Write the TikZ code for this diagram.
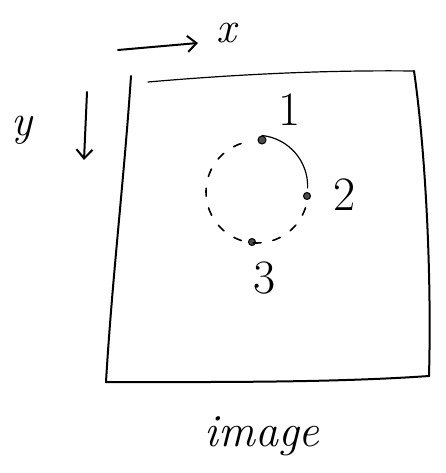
\documentclass[tikz,border=0pt]{standalone}
\usetikzlibrary{arrows.meta}
\begin{document}
\begin{tikzpicture}[x=1pt,y=-1pt,
  ink/.style={line width=2pt,line cap=round,line join=round,black},
  axisarrow/.style={ink,-{Straight Barb[length=9pt,width=16pt,line width=2pt]}},
  dotmark/.style={circle,fill=black!70,draw=black,line width=1pt,inner sep=0pt,minimum size=8pt},
  numlabel/.style={font=\fontsize{48}{50}\selectfont},
  axlabel/.style={font=\fontsize{44}{46}\selectfont\itshape}
]
\useasboundingbox (0,0) rectangle (446,473);
% frame
\coordinate (tl) at (131,76);
\coordinate (tr) at (414,71);
\coordinate (br) at (429,376);
\coordinate (bl) at (106,382);
\draw[ink] (tl) .. controls (124,180) and (112,280) .. (bl);
\draw[ink,line width=1.2pt] (148,82) .. controls (240,74) and (330,70) .. (tr);
\draw[ink] (tr) .. controls (424,140) and (432,260) .. (br);
\draw[ink] (bl) .. controls (200,382) and (330,383) .. (br);
% axes
\coordinate (xs) at (118,50);
\coordinate (xe) at (198,43);
\draw[axisarrow] (xs) -- (xe);
\node[axlabel] (xl) at (226,33) {x};
\coordinate (ys) at (87,92);
\coordinate (ye) at (84,160);
\draw[axisarrow] (ys) -- (ye);
\node[axlabel] (yl) at (22,130) {y};
% points on circle
\coordinate (c) at (257,192);
\node[dotmark] (p1) at (262,140) {};
\node[dotmark,minimum size=7pt] (p2) at (307,196) {};
\node[dotmark,minimum size=7pt] (p3) at (252,242) {};
\draw[ink,line width=1.2pt] (p1.north) arc[start angle=-84, end angle=2, radius=51];
\draw[ink,line width=1.6pt,dash pattern=on 8pt off 12pt] (c) ++(18:51) arc[start angle=18, end angle=262, radius=51];
% labels
\node[numlabel] (l1) at (290,110) {1};
\node[numlabel] (l2) at (345,195) {2};
\node[numlabel] (l3) at (265,278) {3};
\node[font=\fontsize{46}{48}\selectfont\itshape] (img) at (262,436) {image};
\end{tikzpicture}
\end{document}
